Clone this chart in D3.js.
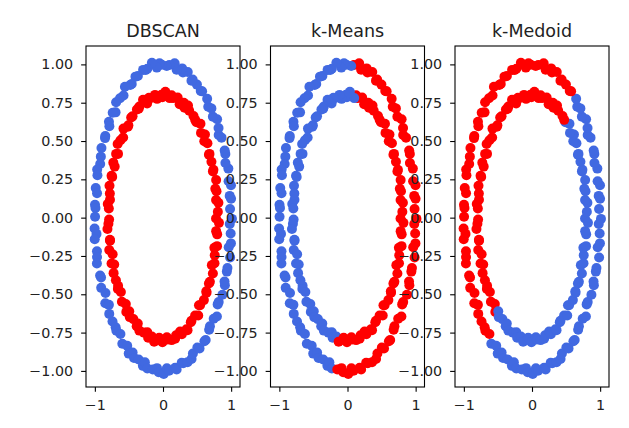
<!DOCTYPE html>
<html>
<head>
<meta charset="utf-8">
<script src="https://cdn.jsdelivr.net/npm/d3@7"></script>
<style>
  html, body { margin: 0; padding: 0; background: #fff; }
  svg { display: block; }
  text { font-family: "DejaVu Sans", sans-serif; }
</style>
</head>
<body>
<svg id="chart" width="629" height="428"></svg>
<script>
// ---- data: the two noisy rings (same points in every panel), ordered by angle ----
const outerRing = [
  [1.012,-0.008],[0.984,0.057],[0.999,0.123],[0.979,0.142],[0.998,0.211],[0.963,0.238],[0.959,0.320],[0.916,0.356],[0.915,0.416],[0.905,0.438],
  [0.859,0.522],[0.817,0.539],[0.815,0.585],[0.794,0.642],[0.732,0.659],[0.710,0.713],[0.664,0.724],[0.648,0.776],[0.574,0.824],[0.554,0.827],
  [0.498,0.868],[0.435,0.901],[0.418,0.894],[0.363,0.950],[0.293,0.947],[0.281,0.974],[0.200,0.965],[0.171,1.007],[0.093,0.996],[0.054,0.990],
  [-0.018,0.998],[-0.051,1.008],[-0.091,0.979],[-0.163,1.010],[-0.230,0.972],[-0.253,0.963],[-0.292,0.964],[-0.369,0.924],[-0.404,0.920],[-0.459,0.872],
  [-0.481,0.865],[-0.559,0.854],[-0.579,0.797],[-0.631,0.779],[-0.688,0.753],[-0.696,0.687],[-0.738,0.685],[-0.793,0.625],[-0.787,0.596],[-0.847,0.532],
  [-0.851,0.519],[-0.903,0.455],[-0.912,0.398],[-0.922,0.350],[-0.966,0.314],[-0.962,0.277],[-0.987,0.194],[-0.968,0.159],[-0.998,0.084],[-0.991,0.063],
  [-0.997,0.006],[-1.004,-0.071],[-0.976,-0.106],[-1.002,-0.141],[-0.969,-0.220],[-0.968,-0.257],[-0.970,-0.299],[-0.923,-0.378],[-0.909,-0.391],[-0.907,-0.458],
  [-0.844,-0.492],[-0.847,-0.558],[-0.794,-0.569],[-0.789,-0.628],[-0.741,-0.678],[-0.695,-0.715],[-0.684,-0.738],[-0.625,-0.759],[-0.597,-0.823],[-0.525,-0.836],
  [-0.503,-0.887],[-0.446,-0.880],[-0.425,-0.916],[-0.357,-0.925],[-0.295,-0.967],[-0.266,-0.944],[-0.230,-0.984],[-0.150,-0.991],[-0.088,-0.982],[-0.063,-1.009],
  [0.011,-1.020],[0.057,-0.983],[0.089,-0.999],[0.178,-0.980],[0.200,-0.991],[0.274,-0.947],[0.297,-0.950],[0.360,-0.943],[0.419,-0.922],[0.439,-0.886],
  [0.504,-0.848],[0.536,-0.853],[0.608,-0.806],[0.626,-0.798],[0.677,-0.732],[0.689,-0.709],[0.744,-0.660],[0.791,-0.645],[0.802,-0.566],[0.817,-0.551],
  [0.872,-0.503],[0.908,-0.441],[0.903,-0.417],[0.937,-0.352],[0.946,-0.328],[0.985,-0.260],[0.964,-0.193],[0.997,-0.168],[0.993,-0.103],[0.980,-0.042]
];
const innerRing = [
  [0.778,-0.006],[0.805,0.039],[0.813,0.097],[0.779,0.115],[0.785,0.172],[0.768,0.188],[0.780,0.246],[0.733,0.301],[0.740,0.313],[0.711,0.365],
  [0.674,0.410],[0.682,0.416],[0.652,0.486],[0.606,0.499],[0.616,0.543],[0.558,0.553],[0.550,0.613],[0.491,0.623],[0.472,0.638],[0.448,0.663],
  [0.385,0.698],[0.367,0.731],[0.316,0.717],[0.306,0.750],[0.244,0.740],[0.215,0.784],[0.148,0.780],[0.126,0.799],[0.098,0.780],[0.035,0.821],
  [-0.009,0.786],[-0.022,0.802],[-0.087,0.775],[-0.117,0.801],[-0.184,0.780],[-0.206,0.782],[-0.233,0.745],[-0.293,0.769],[-0.347,0.725],[-0.357,0.710],
  [-0.383,0.706],[-0.447,0.661],[-0.467,0.653],[-0.508,0.603],[-0.516,0.593],[-0.580,0.581],[-0.585,0.523],[-0.624,0.505],[-0.666,0.480],[-0.660,0.416],
  [-0.688,0.416],[-0.729,0.359],[-0.709,0.333],[-0.755,0.273],[-0.746,0.266],[-0.785,0.208],[-0.780,0.157],[-0.778,0.117],[-0.811,0.089],[-0.795,0.060],
  [-0.791,-0.012],[-0.801,-0.040],[-0.815,-0.074],[-0.779,-0.145],[-0.777,-0.150],[-0.789,-0.211],[-0.739,-0.239],[-0.755,-0.299],[-0.716,-0.306],[-0.725,-0.362],
  [-0.691,-0.409],[-0.659,-0.444],[-0.662,-0.465],[-0.618,-0.485],[-0.603,-0.549],[-0.546,-0.563],[-0.538,-0.615],[-0.495,-0.611],[-0.488,-0.649],[-0.435,-0.662],
  [-0.386,-0.709],[-0.370,-0.691],[-0.347,-0.737],[-0.280,-0.750],[-0.230,-0.748],[-0.218,-0.783],[-0.163,-0.776],[-0.130,-0.809],[-0.065,-0.797],[-0.056,-0.784],
  [-0.008,-0.813],[0.057,-0.780],[0.072,-0.795],[0.127,-0.799],[0.178,-0.790],[0.192,-0.768],[0.251,-0.743],[0.277,-0.761],[0.345,-0.728],[0.360,-0.734],
  [0.408,-0.682],[0.418,-0.673],[0.471,-0.638],[0.517,-0.638],[0.528,-0.572],[0.544,-0.572],[0.600,-0.538],[0.639,-0.490],[0.636,-0.480],[0.674,-0.430],
  [0.688,-0.419],[0.732,-0.364],[0.717,-0.310],[0.756,-0.298],[0.759,-0.245],[0.754,-0.197],[0.793,-0.186],[0.795,-0.109],[0.780,-0.088],[0.821,-0.034]
];

// ---- cluster labels per panel (one digit per point, 0 = blue, 1 = red) ----
const titles = ["DBSCAN", "k-Means", "k-Medoid"];
const outerLabels = [
  "0000000000 0000000000 0000000000 0000000000 0000000000 0000000000 0000000000 0000000000 0000000000 0000000000 0000000000 0000000000",
  "1111111111 1111111111 1111111110 0000000000 0000000000 0000000000 0000000000 0000000000 0000000111 1111111111 1111111111 1111111111",
  "0000000000 0000000011 1111111111 1111111111 1111111111 1111111111 1111111111 1111111100 0000000000 0000000000 0000000000 0000000000"
];
const innerLabels = [
  "1111111111 1111111111 1111111111 1111111111 1111111111 1111111111 1111111111 1111111111 1111111111 1111111111 1111111111 1111111111",
  "1111111111 1111111111 1111111100 0000000000 0000000000 0000000000 0000000000 0000000000 0000000111 1111111111 1111111111 1111111111",
  "0000000000 0000000011 1111111111 1111111111 1111111111 1111111111 1111111111 1111111000 0000000000 0000000000 0000000000 0000000000"
];
const clusterColors = ["#4169E1", "#FF0000"];
const xTicks = [-1, 0, 1];
const yTicks = [-1.00, -0.75, -0.50, -0.25, 0.00, 0.25, 0.50, 0.75, 1.00];

// ---- layout ----
const svg = d3.select("#chart");
const panelTop = 46, panelH = 341, panelW = 154, firstLeft = 86, step = 184.5;
const tickLen = 4.86;

titles.forEach((title, i) => {
  const left = firstLeft + step * i;
  const x = d3.scaleLinear().domain([-1.13, 1.13]).range([left, left + panelW]);
  const y = d3.scaleLinear().domain([-1.105, 1.12]).range([panelTop + panelH, panelTop]);
  const g = svg.append("g");

  const oL = outerLabels[i].replace(/ /g, "");
  const iL = innerLabels[i].replace(/ /g, "");
  const pts = [];
  outerRing.forEach((p, k) => pts.push({ p, c: +oL[k] }));
  innerRing.forEach((p, k) => pts.push({ p, c: +iL[k] }));

  g.append("g").selectAll("circle").data(pts).join("circle")
    .attr("cx", d => x(d.p[0]))
    .attr("cy", d => y(d.p[1]))
    .attr("r", 5)
    .attr("fill", d => clusterColors[d.c]);

  g.append("rect")
    .attr("x", left).attr("y", panelTop)
    .attr("width", panelW).attr("height", panelH)
    .attr("fill", "none").attr("stroke", "#000").attr("stroke-width", 1.1);

  const yAxis = g.append("g").attr("transform", `translate(${left},0)`)
    .call(d3.axisLeft(y).tickValues(yTicks).tickFormat(d3.format(".2f"))
      .tickSize(tickLen).tickPadding(8).tickSizeOuter(0));
  const xAxis = g.append("g").attr("transform", `translate(0,${panelTop + panelH})`)
    .call(d3.axisBottom(x).tickValues(xTicks).tickFormat(d3.format("d"))
      .tickSize(tickLen).tickPadding(8).tickSizeOuter(0));
  [yAxis, xAxis].forEach(a => {
    a.select(".domain").remove();
    a.selectAll(".tick line").attr("stroke", "#000").attr("stroke-width", 1.1);
    a.selectAll(".tick text").attr("fill", "#222").style("font-size", "14.3px")
      .style("font-family", "'DejaVu Sans', sans-serif");
  });

  g.append("text")
    .attr("x", left + panelW / 2).attr("y", 37)
    .attr("text-anchor", "middle")
    .attr("fill", "#222")
    .style("font-size", "17.5px")
    .text(title);
});
</script>
</body>
</html>
